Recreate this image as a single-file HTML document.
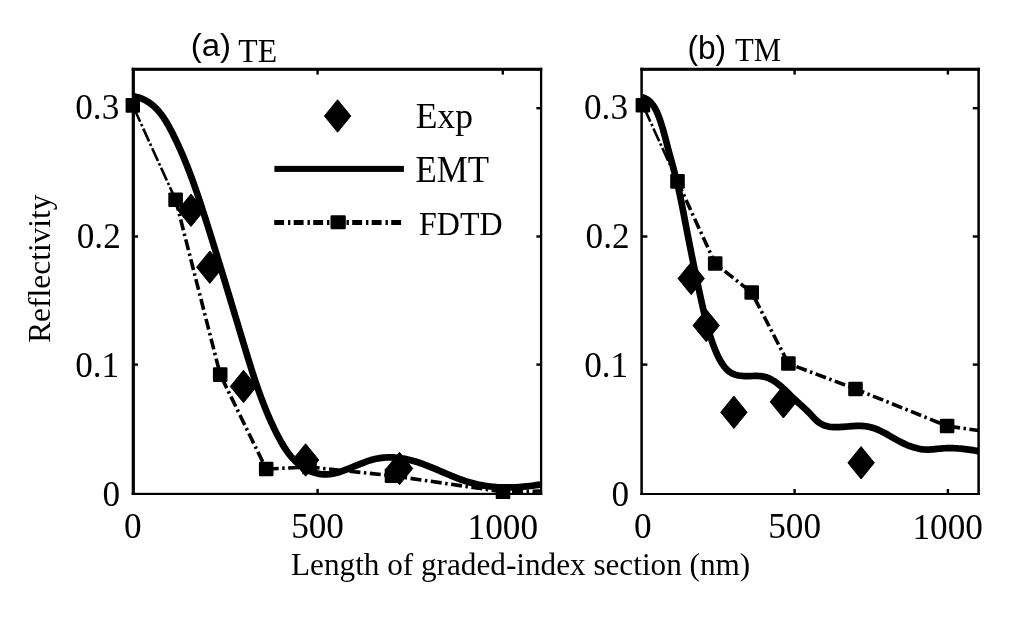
<!DOCTYPE html>
<html><head><meta charset="utf-8"><title>Reflectivity vs graded-index length</title>
<style>html,body{margin:0;padding:0;background:#fff;width:1024px;height:620px;overflow:hidden}svg{display:block;filter:grayscale(1)}</style>
</head><body>
<svg width="1024" height="620" viewBox="0 0 1024 620">
<defs>
<clipPath id="cl"><rect x="125.30000000000001" y="69.3" width="415.8" height="432.59999999999997"/></clipPath>
<clipPath id="cr"><rect x="633.6" y="69.3" width="345.0" height="432.7"/></clipPath>
</defs>
<rect width="1024" height="620" fill="#fff"/>
<g fill="#000">
<rect x="131.70" y="67.75" width="410.55" height="3.10"/>
<rect x="131.70" y="492.80" width="410.55" height="2.20"/>
<rect x="131.70" y="67.75" width="3.20" height="427.25"/>
<rect x="539.95" y="67.75" width="2.30" height="427.25"/>
<rect x="640.35" y="67.75" width="339.50" height="3.10"/>
<rect x="640.35" y="493.00" width="339.50" height="2.00"/>
<rect x="640.35" y="67.75" width="2.50" height="427.25"/>
<rect x="977.35" y="67.75" width="2.50" height="427.25"/>
<rect x="133.30" y="107.00" width="4.70" height="2.40"/>
<rect x="536.40" y="107.00" width="4.70" height="2.40"/>
<rect x="133.30" y="235.30" width="4.70" height="2.40"/>
<rect x="536.40" y="235.30" width="4.70" height="2.40"/>
<rect x="133.30" y="363.40" width="4.70" height="2.40"/>
<rect x="536.40" y="363.40" width="4.70" height="2.40"/>
<rect x="316.40" y="69.30" width="2.40" height="5.30"/>
<rect x="316.40" y="488.90" width="2.40" height="5.00"/>
<rect x="501.60" y="69.30" width="2.40" height="5.30"/>
<rect x="501.60" y="488.90" width="2.40" height="5.00"/>
<rect x="641.60" y="107.00" width="5.80" height="2.40"/>
<rect x="972.80" y="107.00" width="5.80" height="2.40"/>
<rect x="641.60" y="235.30" width="5.80" height="2.40"/>
<rect x="972.80" y="235.30" width="5.80" height="2.40"/>
<rect x="641.60" y="363.40" width="5.80" height="2.40"/>
<rect x="972.80" y="363.40" width="5.80" height="2.40"/>
<rect x="793.40" y="69.30" width="2.40" height="5.30"/>
<rect x="793.40" y="489.00" width="2.40" height="5.00"/>
<rect x="946.70" y="69.30" width="2.40" height="5.30"/>
<rect x="946.70" y="489.00" width="2.40" height="5.00"/>
<g clip-path="url(#cl)">
<polyline points="132.70,105.40 175.60,199.70" fill="none" stroke="#000" stroke-width="2.6" stroke-dasharray="14 2.5 2.5 2.5" stroke-dashoffset="-4"/>
<polyline points="175.60,199.70 220.20,374.60 266.20,469.00 309.50,467.00 392.00,475.70 503.00,491.80 541.00,491.00" fill="none" stroke="#000" stroke-width="3.6" stroke-dasharray="11 3.5 2.5 3.5" stroke-linejoin="round"/>
<rect x="125.40" y="98.10" width="14.60" height="14.60" rx="1.2"/>
<rect x="168.30" y="192.40" width="14.60" height="14.60" rx="1.2"/>
<rect x="212.90" y="367.30" width="14.60" height="14.60" rx="1.2"/>
<rect x="258.90" y="461.70" width="14.60" height="14.60" rx="1.2"/>
<rect x="302.20" y="459.70" width="14.60" height="14.60" rx="1.2"/>
<rect x="384.70" y="468.40" width="14.60" height="14.60" rx="1.2"/>
<rect x="495.70" y="484.50" width="14.60" height="14.60" rx="1.2"/>
<path d="M133.18,96.20 L135.32,96.63 L137.39,97.14 L139.38,97.75 L141.31,98.45 L143.16,99.23 L144.95,100.09 L146.68,101.04 L148.34,102.05 L149.94,103.14 L151.49,104.29 L152.98,105.51 L154.42,106.79 L155.81,108.13 L157.15,109.53 L158.44,110.97 L159.70,112.46 L160.91,114.00 L162.09,115.57 L163.23,117.19 L164.33,118.84 L165.41,120.51 L166.45,122.22 L167.47,123.95 L168.47,125.70 L169.45,127.46 L170.40,129.25 L171.34,131.04 L172.27,132.83 L173.18,134.63 L174.08,136.44 L174.97,138.25 L175.84,140.06 L176.71,141.88 L177.56,143.70 L178.41,145.52 L179.24,147.35 L180.06,149.18 L180.87,151.01 L181.68,152.85 L182.47,154.69 L183.25,156.53 L184.03,158.38 L184.79,160.22 L185.55,162.07 L186.29,163.93 L187.03,165.78 L187.77,167.64 L188.49,169.50 L189.21,171.37 L189.92,173.23 L190.62,175.10 L191.31,176.97 L192.00,178.84 L192.68,180.71 L193.36,182.59 L194.03,184.47 L194.69,186.35 L195.35,188.23 L196.01,190.11 L196.66,191.99 L197.30,193.88 L197.94,195.77 L198.58,197.65 L199.21,199.54 L199.84,201.43 L200.46,203.32 L201.08,205.22 L201.70,207.11 L202.32,209.00 L202.93,210.90 L203.54,212.79 L204.15,214.69 L204.76,216.58 L205.36,218.48 L205.96,220.38 L206.57,222.28 L207.17,224.17 L207.77,226.07 L208.37,227.97 L208.97,229.87 L209.56,231.77 L210.16,233.67 L210.76,235.56 L211.35,237.46 L211.94,239.36 L212.53,241.26 L213.13,243.17 L213.72,245.07 L214.31,246.97 L214.89,248.87 L215.48,250.77 L216.07,252.67 L216.65,254.57 L217.24,256.48 L217.83,258.38 L218.41,260.28 L218.99,262.19 L219.57,264.09 L220.16,265.99 L220.74,267.90 L221.32,269.80 L221.90,271.71 L222.48,273.61 L223.06,275.52 L223.64,277.42 L224.22,279.33 L224.79,281.24 L225.37,283.14 L225.95,285.05 L226.52,286.96 L227.10,288.86 L227.68,290.77 L228.25,292.68 L228.83,294.59 L229.40,296.49 L229.98,298.40 L230.55,300.31 L231.13,302.22 L231.70,304.13 L232.28,306.04 L232.85,307.95 L233.43,309.86 L234.00,311.77 L234.58,313.68 L235.15,315.59 L235.73,317.50 L236.30,319.41 L236.88,321.33 L237.45,323.24 L238.03,325.15 L238.60,327.06 L239.18,328.97 L239.75,330.89 L240.33,332.80 L240.91,334.71 L241.48,336.63 L242.06,338.54 L242.64,340.45 L243.21,342.37 L243.79,344.28 L244.37,346.20 L244.95,348.11 L245.53,350.03 L246.11,351.94 L246.69,353.86 L247.28,355.77 L247.86,357.69 L248.45,359.60 L249.04,361.51 L249.64,363.43 L250.23,365.34 L250.83,367.25 L251.44,369.15 L252.04,371.06 L252.65,372.97 L253.27,374.87 L253.89,376.78 L254.52,378.68 L255.15,380.57 L255.78,382.47 L256.43,384.37 L257.07,386.26 L257.73,388.15 L258.39,390.03 L259.06,391.92 L259.74,393.80 L260.42,395.68 L261.11,397.55 L261.81,399.42 L262.52,401.29 L263.24,403.16 L263.96,405.02 L264.70,406.88 L265.44,408.73 L266.19,410.58 L266.96,412.43 L267.73,414.27 L268.52,416.10 L269.31,417.94 L270.12,419.76 L270.94,421.59 L271.77,423.40 L272.61,425.22 L273.47,427.02 L274.33,428.83 L275.21,430.62 L276.11,432.41 L277.01,434.20 L277.93,435.98 L278.87,437.75 L279.82,439.52 L280.79,441.27 L281.78,443.01 L282.79,444.74 L283.82,446.44 L284.88,448.12 L285.97,449.78 L287.09,451.40 L288.25,453.00 L289.44,454.56 L290.66,456.09 L291.93,457.57 L293.24,459.02 L294.59,460.41 L295.99,461.76 L297.43,463.06 L298.92,464.30 L300.45,465.49 L302.02,466.61 L303.63,467.67 L305.27,468.67 L306.95,469.59 L308.66,470.45 L310.40,471.23 L312.17,471.93 L313.97,472.55 L315.79,473.09 L317.63,473.54 L319.49,473.90 L321.37,474.18 L323.27,474.35 L325.18,474.43 L327.11,474.41 L329.04,474.28 L330.99,474.05 L332.94,473.72 L334.89,473.30 L336.86,472.79 L338.83,472.22 L340.80,471.59 L342.77,470.90 L344.74,470.17 L346.72,469.41 L348.69,468.62 L350.66,467.81 L352.63,466.99 L354.59,466.18 L356.55,465.37 L358.51,464.57 L360.46,463.79 L362.42,463.03 L364.36,462.30 L366.31,461.61 L368.25,460.95 L370.20,460.33 L372.14,459.77 L374.07,459.26 L376.01,458.82 L377.94,458.43 L379.88,458.11 L381.81,457.85 L383.74,457.65 L385.67,457.50 L387.59,457.41 L389.52,457.38 L391.44,457.39 L393.36,457.46 L395.28,457.58 L397.20,457.75 L399.11,457.97 L401.03,458.23 L402.94,458.53 L404.85,458.88 L406.76,459.27 L408.66,459.71 L410.57,460.17 L412.47,460.68 L414.37,461.22 L416.27,461.80 L418.16,462.41 L420.06,463.04 L421.95,463.71 L423.84,464.40 L425.73,465.11 L427.62,465.84 L429.51,466.59 L431.40,467.35 L433.28,468.13 L435.17,468.92 L437.05,469.71 L438.94,470.51 L440.82,471.32 L442.71,472.13 L444.59,472.93 L446.48,473.73 L448.36,474.53 L450.25,475.32 L452.14,476.10 L454.03,476.86 L455.91,477.61 L457.80,478.35 L459.70,479.06 L461.59,479.75 L463.48,480.42 L465.38,481.06 L467.28,481.67 L469.18,482.25 L471.08,482.80 L472.99,483.32 L474.89,483.80 L476.80,484.25 L478.72,484.67 L480.63,485.06 L482.55,485.41 L484.47,485.74 L486.40,486.04 L488.33,486.30 L490.26,486.54 L492.20,486.75 L494.14,486.94 L496.08,487.09 L498.03,487.22 L499.99,487.32 L501.94,487.40 L503.91,487.45 L505.87,487.47 L507.85,487.47 L509.82,487.45 L511.81,487.40 L513.79,487.33 L515.79,487.24 L517.79,487.12 L519.79,486.99 L521.80,486.83 L523.82,486.65 L525.85,486.45 L527.88,486.23 L529.91,485.99 L531.96,485.73 L534.01,485.45 L536.07,485.16 L538.13,484.84 L540.20,484.51" fill="none" stroke="#000" stroke-width="6.7" stroke-linejoin="round" stroke-linecap="butt"/>
<path d="M191.00,194.10 L204.20,210.30 L191.00,226.50 L177.80,210.30 Z" stroke="#000" stroke-width="1" stroke-linejoin="round"/>
<path d="M209.80,251.00 L223.00,267.20 L209.80,283.40 L196.60,267.20 Z" stroke="#000" stroke-width="1" stroke-linejoin="round"/>
<path d="M243.50,370.30 L256.70,386.50 L243.50,402.70 L230.30,386.50 Z" stroke="#000" stroke-width="1" stroke-linejoin="round"/>
<path d="M305.60,443.80 L318.80,460.00 L305.60,476.20 L292.40,460.00 Z" stroke="#000" stroke-width="1" stroke-linejoin="round"/>
<path d="M399.50,452.30 L412.70,468.50 L399.50,484.70 L386.30,468.50 Z" stroke="#000" stroke-width="1" stroke-linejoin="round"/>
</g>
<g clip-path="url(#cr)">
<polyline points="642.90,105.20 677.50,181.40" fill="none" stroke="#000" stroke-width="2.6" stroke-dasharray="14 2.5 2.5 2.5" stroke-dashoffset="-4"/>
<polyline points="677.50,181.40 715.20,263.50 751.70,292.50 788.40,363.50 855.50,389.00 947.10,426.00 978.60,430.50" fill="none" stroke="#000" stroke-width="3.6" stroke-dasharray="11 3.5 2.5 3.5" stroke-linejoin="round"/>
<rect x="635.60" y="97.90" width="14.60" height="14.60" rx="1.2"/>
<rect x="670.20" y="174.10" width="14.60" height="14.60" rx="1.2"/>
<rect x="707.90" y="256.20" width="14.60" height="14.60" rx="1.2"/>
<rect x="744.40" y="285.20" width="14.60" height="14.60" rx="1.2"/>
<rect x="781.10" y="356.20" width="14.60" height="14.60" rx="1.2"/>
<rect x="848.20" y="381.70" width="14.60" height="14.60" rx="1.2"/>
<rect x="939.80" y="418.70" width="14.60" height="14.60" rx="1.2"/>
<path d="M642.22,97.24 L644.10,97.86 L645.86,98.67 L647.48,99.65 L648.99,100.78 L650.39,102.06 L651.68,103.47 L652.88,104.99 L653.98,106.61 L655.01,108.32 L655.96,110.10 L656.85,111.95 L657.68,113.84 L658.45,115.76 L659.18,117.70 L659.88,119.64 L660.54,121.58 L661.18,123.51 L661.79,125.44 L662.38,127.37 L662.95,129.30 L663.49,131.22 L664.03,133.14 L664.55,135.06 L665.06,136.98 L665.56,138.90 L666.06,140.81 L666.56,142.73 L667.05,144.65 L667.55,146.56 L668.05,148.48 L668.56,150.40 L669.08,152.32 L669.60,154.24 L670.12,156.17 L670.65,158.09 L671.18,160.01 L671.70,161.94 L672.23,163.87 L672.76,165.80 L673.28,167.73 L673.80,169.66 L674.31,171.59 L674.82,173.52 L675.32,175.46 L675.81,177.39 L676.30,179.33 L676.77,181.27 L677.23,183.21 L677.69,185.15 L678.13,187.09 L678.57,189.04 L679.00,190.98 L679.43,192.93 L679.85,194.87 L680.26,196.82 L680.66,198.77 L681.06,200.72 L681.46,202.67 L681.85,204.63 L682.24,206.58 L682.63,208.54 L683.01,210.49 L683.39,212.45 L683.77,214.41 L684.14,216.37 L684.52,218.34 L684.89,220.30 L685.27,222.26 L685.65,224.23 L686.02,226.20 L686.40,228.16 L686.78,230.13 L687.16,232.11 L687.55,234.08 L687.93,236.05 L688.32,238.02 L688.70,240.00 L689.09,241.97 L689.48,243.94 L689.87,245.92 L690.27,247.89 L690.66,249.87 L691.05,251.84 L691.45,253.81 L691.85,255.79 L692.25,257.76 L692.65,259.73 L693.05,261.70 L693.45,263.67 L693.86,265.64 L694.26,267.61 L694.67,269.58 L695.08,271.54 L695.49,273.51 L695.90,275.47 L696.31,277.43 L696.72,279.39 L697.14,281.34 L697.55,283.30 L697.97,285.25 L698.39,287.20 L698.81,289.14 L699.23,291.09 L699.65,293.03 L700.07,294.97 L700.50,296.90 L700.92,298.84 L701.35,300.77 L701.78,302.69 L702.21,304.61 L702.64,306.53 L703.07,308.45 L703.50,310.36 L703.94,312.27 L704.38,314.17 L704.83,316.08 L705.28,317.98 L705.74,319.88 L706.21,321.78 L706.70,323.68 L707.19,325.59 L707.71,327.49 L708.23,329.40 L708.78,331.30 L709.34,333.22 L709.93,335.13 L710.53,337.05 L711.16,338.98 L711.82,340.91 L712.50,342.85 L713.21,344.79 L713.95,346.74 L714.72,348.70 L715.52,350.67 L716.36,352.64 L717.23,354.60 L718.14,356.54 L719.10,358.44 L720.10,360.30 L721.16,362.11 L722.26,363.85 L723.42,365.51 L724.64,367.08 L725.92,368.55 L727.26,369.91 L728.67,371.14 L730.14,372.24 L731.69,373.18 L733.32,373.97 L735.01,374.61 L736.77,375.11 L738.59,375.49 L740.45,375.76 L742.36,375.94 L744.31,376.04 L746.28,376.08 L748.28,376.07 L750.29,376.04 L752.31,375.99 L754.33,375.95 L756.35,375.95 L758.35,376.01 L760.33,376.14 L762.29,376.38 L764.21,376.74 L766.10,377.25 L767.94,377.89 L769.75,378.66 L771.52,379.55 L773.25,380.54 L774.95,381.63 L776.62,382.81 L778.26,384.05 L779.87,385.36 L781.45,386.72 L783.01,388.13 L784.55,389.56 L786.06,391.01 L787.55,392.47 L789.02,393.93 L790.47,395.38 L791.91,396.80 L793.33,398.18 L794.74,399.53 L796.14,400.82 L797.53,402.09 L798.92,403.33 L800.30,404.56 L801.69,405.80 L803.08,407.05 L804.48,408.32 L805.89,409.64 L807.31,411.01 L808.75,412.45 L810.21,413.96 L811.69,415.55 L813.20,417.19 L814.73,418.82 L816.30,420.36 L817.90,421.76 L819.55,422.98 L821.22,424.00 L822.94,424.86 L824.68,425.55 L826.46,426.11 L828.27,426.53 L830.11,426.83 L831.98,427.03 L833.87,427.14 L835.78,427.17 L837.72,427.15 L839.68,427.07 L841.66,426.96 L843.66,426.82 L845.67,426.66 L847.68,426.50 L849.71,426.34 L851.74,426.19 L853.77,426.06 L855.79,425.97 L857.81,425.91 L859.82,425.90 L861.82,425.96 L863.80,426.08 L865.76,426.29 L867.71,426.58 L869.62,426.97 L871.52,427.45 L873.39,428.02 L875.24,428.67 L877.08,429.39 L878.90,430.18 L880.70,431.02 L882.50,431.91 L884.29,432.84 L886.07,433.80 L887.85,434.79 L889.62,435.80 L891.40,436.82 L893.18,437.84 L894.96,438.86 L896.75,439.87 L898.55,440.85 L900.35,441.81 L902.18,442.74 L904.01,443.62 L905.86,444.46 L907.72,445.26 L909.59,446.00 L911.47,446.68 L913.37,447.30 L915.27,447.85 L917.18,448.34 L919.11,448.75 L921.04,449.08 L922.98,449.34 L924.93,449.50 L926.88,449.57 L928.84,449.55 L930.81,449.46 L932.79,449.31 L934.77,449.13 L936.75,448.92 L938.74,448.72 L940.73,448.54 L942.73,448.39 L944.72,448.28 L946.72,448.20 L948.73,448.17 L950.73,448.17 L952.73,448.20 L954.74,448.27 L956.74,448.36 L958.75,448.49 L960.75,448.65 L962.75,448.84 L964.75,449.06 L966.74,449.30 L968.73,449.57 L970.72,449.86 L972.71,450.17 L974.69,450.51 L976.66,450.87 L978.63,451.24" fill="none" stroke="#000" stroke-width="6.7" stroke-linejoin="round" stroke-linecap="butt"/>
<path d="M691.20,262.30 L704.40,278.50 L691.20,294.70 L678.00,278.50 Z" stroke="#000" stroke-width="1" stroke-linejoin="round"/>
<path d="M706.20,309.30 L719.40,325.50 L706.20,341.70 L693.00,325.50 Z" stroke="#000" stroke-width="1" stroke-linejoin="round"/>
<path d="M733.90,396.10 L747.10,412.30 L733.90,428.50 L720.70,412.30 Z" stroke="#000" stroke-width="1" stroke-linejoin="round"/>
<path d="M783.40,385.60 L796.60,401.80 L783.40,418.00 L770.20,401.80 Z" stroke="#000" stroke-width="1" stroke-linejoin="round"/>
<path d="M861.10,446.60 L874.30,462.80 L861.10,479.00 L847.90,462.80 Z" stroke="#000" stroke-width="1" stroke-linejoin="round"/>
</g>
<path d="M337.60,99.80 L350.80,116.00 L337.60,132.20 L324.40,116.00 Z" stroke="#000" stroke-width="1" stroke-linejoin="round"/>
<rect x="274.4" y="165.9" width="129.5" height="6"/>
<line x1="274.2" y1="222.4" x2="401.6" y2="222.4" stroke="#000" stroke-width="5" stroke-dasharray="9.9 3.9 2.4 3.3"/>
<rect x="330.5" y="215.2" width="15.3" height="14" rx="1.2"/>
<text transform="matrix(0.35200 0 0 0.36500 75.25 119.20)" font-family='"Liberation Serif", serif' font-size="100">0.3</text>
<text transform="matrix(0.35200 0 0 0.36500 76.75 248.40)" font-family='"Liberation Serif", serif' font-size="100">0.2</text>
<text transform="matrix(0.35200 0 0 0.36500 75.15 377.03)" font-family='"Liberation Serif", serif' font-size="100">0.1</text>
<text transform="matrix(0.35200 0 0 0.36500 102.45 505.75)" font-family='"Liberation Serif", serif' font-size="100">0</text>
<text transform="matrix(0.35200 0 0 0.36500 584.00 119.40)" font-family='"Liberation Serif", serif' font-size="100">0.3</text>
<text transform="matrix(0.35200 0 0 0.36500 585.60 248.30)" font-family='"Liberation Serif", serif' font-size="100">0.2</text>
<text transform="matrix(0.35200 0 0 0.36500 584.15 377.03)" font-family='"Liberation Serif", serif' font-size="100">0.1</text>
<text transform="matrix(0.35200 0 0 0.36500 611.55 505.55)" font-family='"Liberation Serif", serif' font-size="100">0</text>
<text transform="matrix(0.35200 0 0 0.36500 123.90 538.27)" font-family='"Liberation Serif", serif' font-size="100">0</text>
<text transform="matrix(0.35200 0 0 0.36500 291.15 538.20)" font-family='"Liberation Serif", serif' font-size="100">500</text>
<text transform="matrix(0.35200 0 0 0.36500 467.62 538.53)" font-family='"Liberation Serif", serif' font-size="100">1000</text>
<text transform="matrix(0.35200 0 0 0.36500 633.95 538.30)" font-family='"Liberation Serif", serif' font-size="100">0</text>
<text transform="matrix(0.35200 0 0 0.36500 768.20 538.40)" font-family='"Liberation Serif", serif' font-size="100">500</text>
<text transform="matrix(0.35200 0 0 0.36500 912.47 538.53)" font-family='"Liberation Serif", serif' font-size="100">1000</text>
<text transform="matrix(0.33000 0 0 0.32234 190.72 55.93)" font-family='"Liberation Sans", sans-serif' font-size="100">(a)</text>
<text transform="matrix(0.31739 0 0 0.34385 238.37 61.70)" font-family='"Liberation Serif", serif' font-size="100">TE</text>
<text transform="matrix(0.31727 0 0 0.32340 687.40 58.91)" font-family='"Liberation Sans", sans-serif' font-size="100">(b)</text>
<text transform="matrix(0.30690 0 0 0.34462 734.89 60.80)" font-family='"Liberation Serif", serif' font-size="100">TM</text>
<text transform="matrix(0.31199 0 0 0.31957 291.06 575.39)" font-family='"Liberation Serif", serif' font-size="100">Length of graded-index section (nm)</text>
<text transform="matrix(0.35584 0 0 0.35116 415.63 128.33)" font-family='"Liberation Serif", serif' font-size="100">Exp</text>
<text transform="matrix(0.34854 0 0 0.37538 415.55 182.10)" font-family='"Liberation Serif", serif' font-size="100">EMT</text>
<text transform="matrix(0.31969 0 0 0.34154 419.04 234.90)" font-family='"Liberation Serif", serif' font-size="100">FDTD</text>
<text transform="matrix(0 -0.31429 0.31522 0 49.68 342.84)" font-family='"Liberation Serif", serif' font-size="100">Reflectivity</text>
</g>
</svg>
</body></html>
